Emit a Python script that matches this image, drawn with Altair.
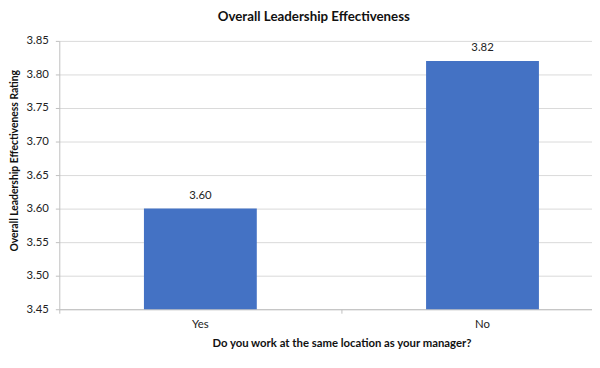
import altair as alt
import pandas as pd

categories = ["Yes", "No"]
ratings = [3.60, 3.82]
rating_labels = ["3.60", "3.82"]
y_ticks = [3.45, 3.50, 3.55, 3.60, 3.65, 3.70, 3.75, 3.80, 3.85]

df = pd.DataFrame({"cat": categories, "rating": ratings, "label": rating_labels})

FONT = "Lato"
GRID = "#d9d9d9"
AXIS = "#bfbfbf"

xscale = alt.Scale(domain=categories, range=[0, 572], paddingInner=0.6, paddingOuter=0.3)
yscale = alt.Scale(domain=[y_ticks[0], y_ticks[-1]], nice=False, zero=False)

x_main = alt.X(
    "cat:N", scale=xscale, sort=categories,
    axis=alt.Axis(
        orient="bottom", title="Do you work at the same location as your manager?",
        labelAngle=0, ticks=True, tickSize=4, tickColor=AXIS, bandPosition=-0.75,
        labelPadding=6, domainColor=AXIS,
        labelFont=FONT, labelFontSize=11.5, labelColor="#222",
        titleFont=FONT, titleFontSize=11.5, titleFontWeight="bold", titleColor="#111",
        titlePadding=7, grid=False,
    ),
)
y_main = alt.Y(
    "rating:Q", scale=yscale,
    axis=alt.Axis(
        title="Overall Leadership Effectiveness Rating", values=y_ticks, format=".2f",
        grid=True, gridColor=GRID, domainColor=AXIS, tickColor=AXIS, tickSize=4,
        labelPadding=7, labelFont=FONT, labelFontSize=11.5, labelColor="#222",
        labelOverlap=False,
        titleFont=FONT, titleFontSize=10.5, titleFontWeight="bold", titleColor="#111",
        titleX=-45, titleY=121, titleBaseline="middle",
    ),
)

bars = alt.Chart(df).mark_bar(color="#4472C4").encode(
    x=x_main, y=y_main, y2=alt.datum(y_ticks[0])
)
texts = alt.Chart(df).mark_text(dy=-13, baseline="middle", font=FONT, fontSize=11.5, color="#222").encode(
    x=x_main, y=y_main, text="label:N",
)

chart = (
    alt.layer(bars, texts)
    .properties(
        width=540, height=272,
        autosize=alt.AutoSizeParams(type="none"),
        padding={"left": 52, "top": 31, "right": 0, "bottom": 42},
        title=alt.TitleParams("Overall Leadership Effectiveness", font=FONT, fontSize=13.5,
                              fontWeight="bold", color="#111", anchor="middle", dx=-12, offset=12),
    )
    .configure_view(stroke=None)
)

chart.save("out.html", embed_options={"renderer": "svg", "actions": False})
